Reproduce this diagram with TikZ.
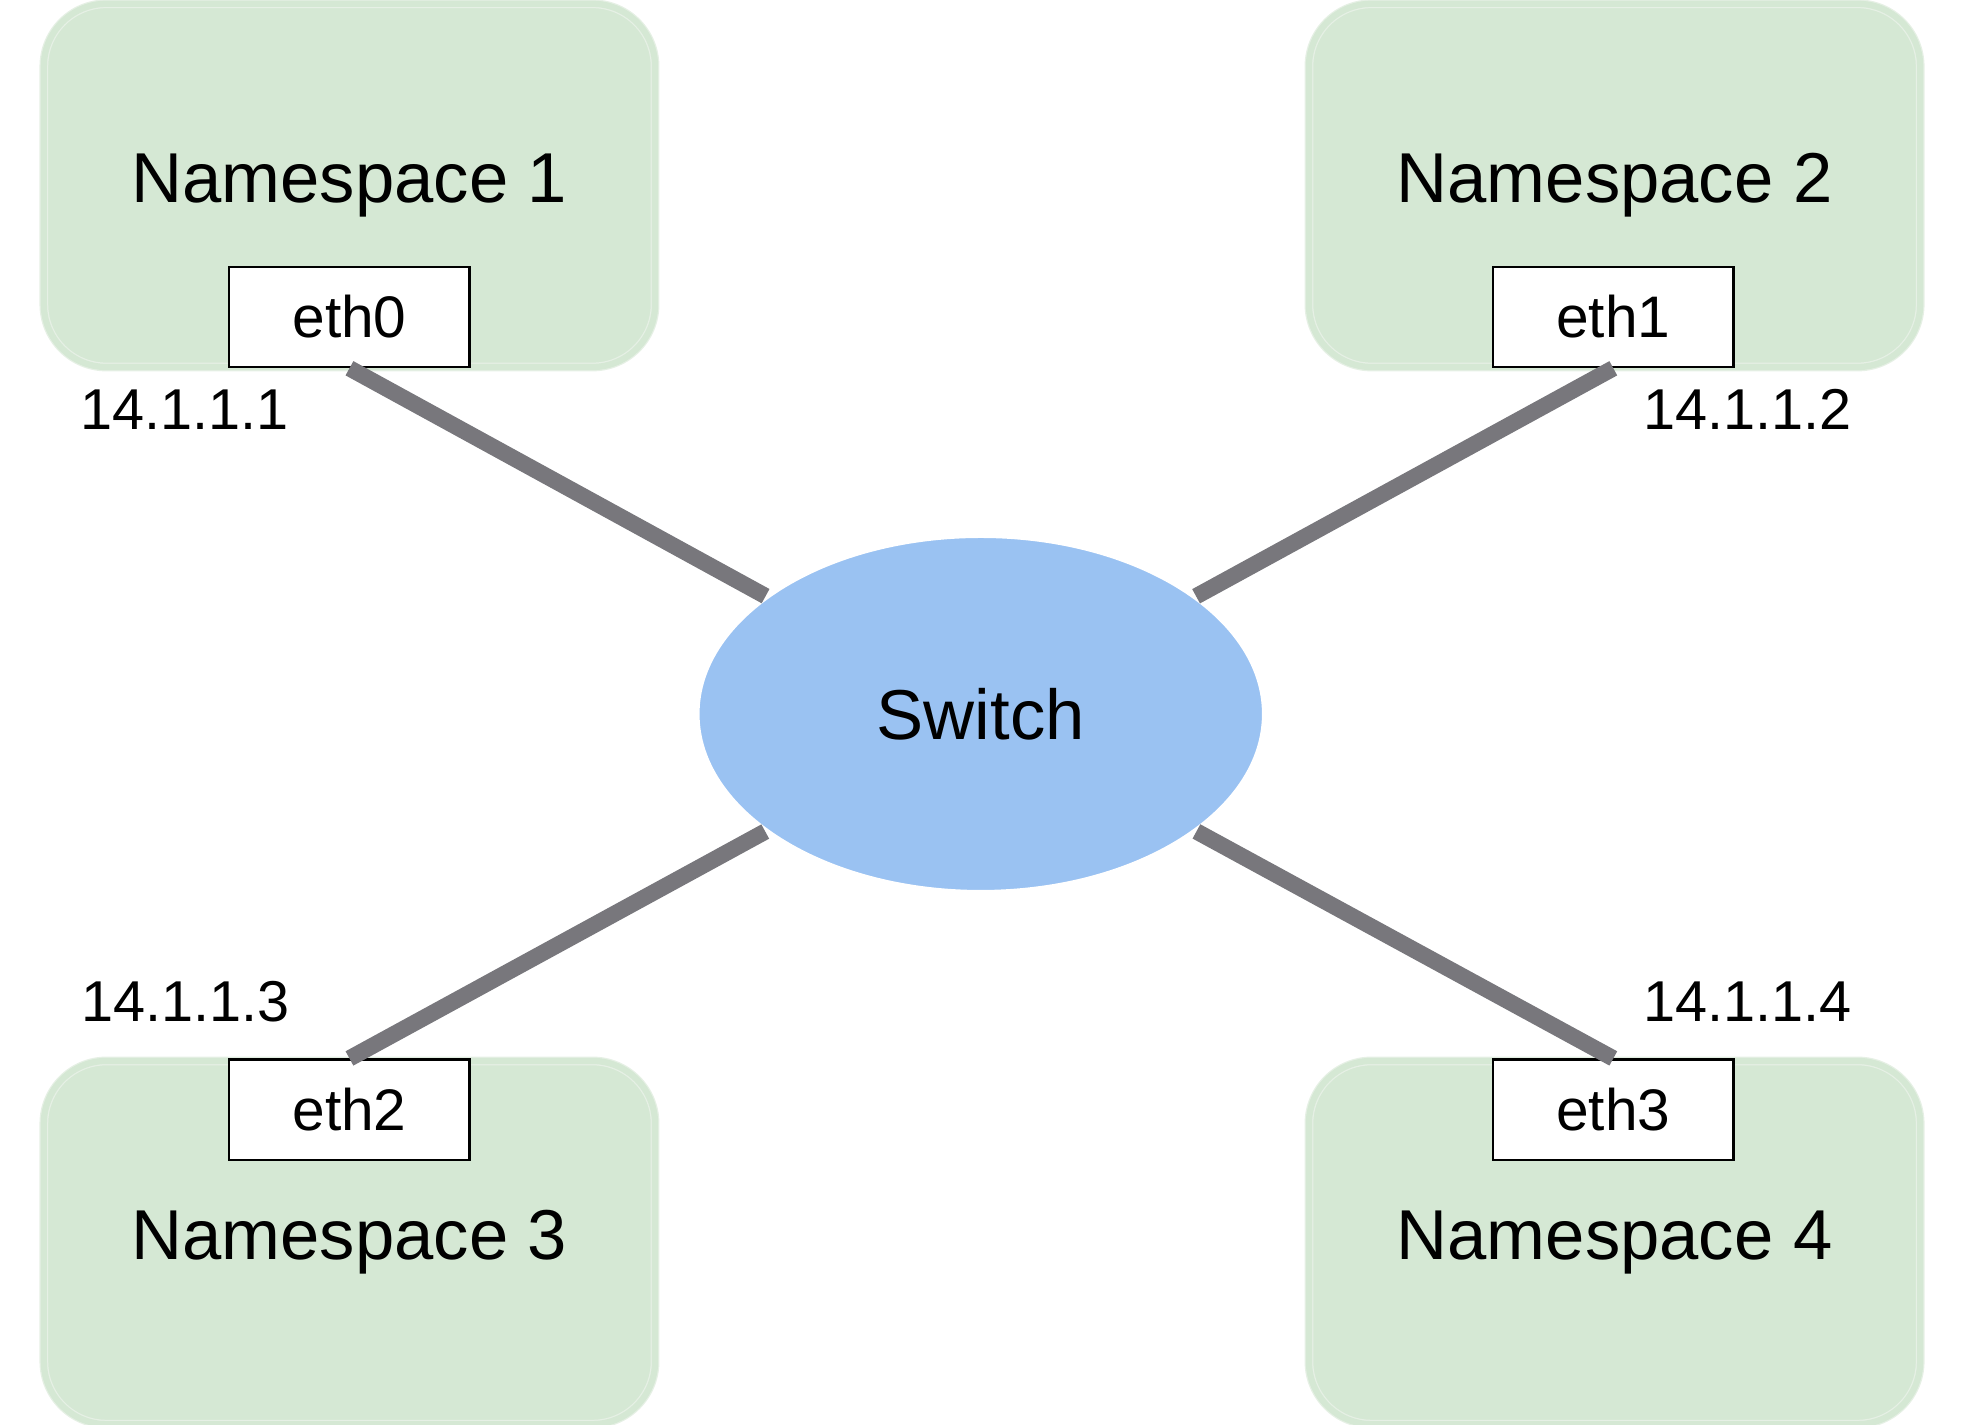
\documentclass[tikz,border=0pt]{standalone}
\usepackage{fontspec}
\setmainfont{Liberation Sans}
\usetikzlibrary{shapes.geometric}

\definecolor{nsgreen}{HTML}{D5E8D4}
\definecolor{nsedge}{HTML}{E6F0E5}
\definecolor{swblue}{HTML}{9AC2F2}
\definecolor{linkgray}{HTML}{78777C}

\begin{document}
\begin{tikzpicture}[x=0.5pt, y=-0.5pt]
  \tikzset{
    ns/.style={fill=nsgreen, draw=nsedge, line width=0.5pt, double=nsgreen, double distance=2.5pt,
      rounded corners=25pt, minimum width=244pt, minimum height=145pt, inner sep=0pt,
      font=\fontsize{28.2}{32}\selectfont},
    eth/.style={fill=white, draw=black, line width=1pt, minimum width=96pt, minimum height=40pt,
      inner sep=0pt, font=\fontsize{23.4}{27}\selectfont},
    ip/.style={inner sep=0pt, font=\fontsize{23}{27}\selectfont},
    sw/.style={ellipse, fill=swblue, draw=white, line width=1.5pt, minimum width=226pt,
      minimum height=142pt, outer sep=0.75pt, font=\fontsize{28.2}{32}\selectfont},
    link/.style={line width=6.5pt, color=linkgray},
  }

  \useasboundingbox (0,0) rectangle (1568,1137);

  % namespaces
  \node[ns] (ns1) at (279,148) {Namespace 1};
  \node[ns] (ns2) at (1289,148) {Namespace 2};
  \node[ns] (ns3) at (279,992) {Namespace 3};
  \node[ns] (ns4) at (1289,992) {Namespace 4};

  % the switch
  \node[sw] (sw) at (783,570) {Switch};

  % interfaces
  \node[eth] (eth0) at (279,253) {eth0};
  \node[eth] (eth1) at (1288,253) {eth1};
  \node[eth] (eth2) at (279,886) {eth2};
  \node[eth] (eth3) at (1288,886) {eth3};

  % links
  \draw[link] (eth0.south) -- (sw);
  \draw[link] (eth1.south) -- (sw);
  \draw[link] (eth2.north) -- (sw);
  \draw[link] (eth3.north) -- (sw);

  % addresses
  \node[ip] (ip1) at (147,327) {14.1.1.1};
  \node[ip] (ip2) at (1395,327) {14.1.1.2};
  \node[ip] (ip3) at (148,800) {14.1.1.3};
  \node[ip] (ip4) at (1395,800) {14.1.1.4};
\end{tikzpicture}
\end{document}
